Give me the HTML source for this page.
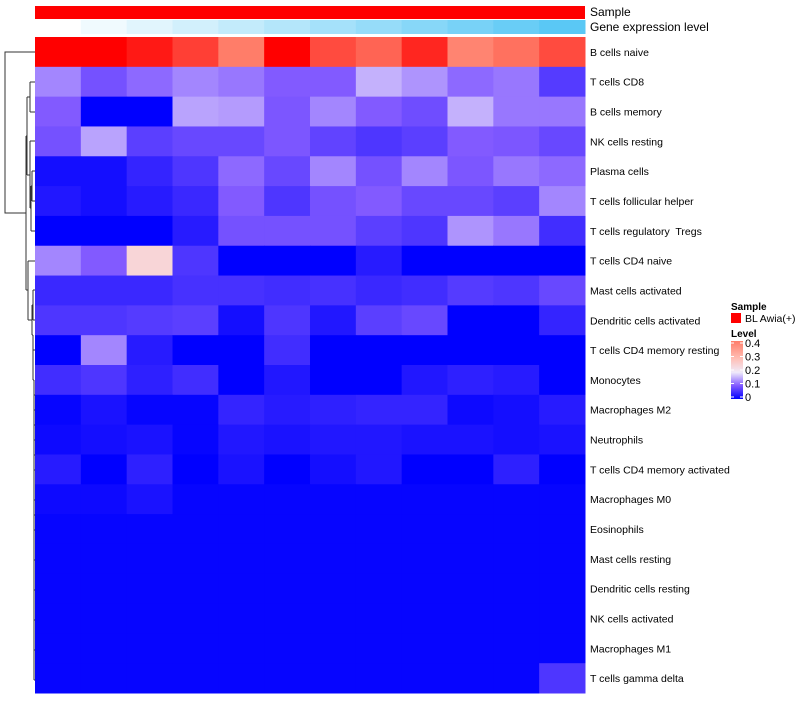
<!DOCTYPE html>
<html><head><meta charset="utf-8"><style>
body{margin:0;background:#fff;}
svg text{font-family:"Liberation Sans",sans-serif;white-space:pre;}
</style></head><body>
<svg id="chart" width="800" height="700" xmlns="http://www.w3.org/2000/svg">
<g id="dendro" stroke="#333" stroke-width="1" fill="none">
<path d="M35,52H5V213H26"/>
<path d="M26,136V290"/>
<path d="M26,136H27M27,97V175M27,97H30M30,82V112M30,82H35M30,112H35"/>
<path d="M27,175H30M30,141V208M30,141H35M30,208H31M31,186V231M31,231H35M31,186H32M32,171V201M32,171H35M32,201H35"/>
<path d="M26,290H28M28,261V320M28,261H35M28,320H32M32,305V335M32,305H33M33,290V320M33,290H35M33,320H35M32,335H33"/>
<path d="M33,335V380M33,350H35M33,380H34M34,380V500M34,395H35M34,425H35M34,440H35M34,470H35M34,500H35M34,455H35M34,410H35"/>
<path d="M34,500V680M34,530H35M34,560H35M34,590H35M34,620H35M34,650H35M34,680H35M34,515H35"/>
</g>
<g id="annot"></g>
<g id="cells"></g>
<g id="labels"></g>
<text x="590" y="16" font-size="12">Sample</text>
<text x="590" y="31" font-size="12">Gene expression level</text>
<g id="legend">
<text x="731" y="310" font-size="10" font-weight="bold">Sample</text>
<rect x="731" y="313" width="10" height="10" fill="#ff0000"/>
<text x="745" y="322" font-size="10.5">BL Awia(+)</text>
<text x="731" y="337" font-size="10" font-weight="bold">Level</text>
<defs><linearGradient id="lg" x1="0" y1="1" x2="0" y2="0">
<stop offset="0" stop-color="rgb(0,0,255)"/><stop offset="0.23" stop-color="rgb(130,90,255)"/><stop offset="0.46" stop-color="rgb(240,235,250)"/><stop offset="0.7" stop-color="rgb(255,190,180)"/><stop offset="1" stop-color="rgb(255,125,105)"/></linearGradient></defs>
<rect x="731" y="341" width="12" height="58" fill="url(#lg)"/>
<g id="ticks"></g>
</g>
</svg>
<script>
const rowLabels=["B cells naive","T cells CD8","B cells memory","NK cells resting","Plasma cells","T cells follicular helper","T cells regulatory  Tregs","T cells CD4 naive","Mast cells activated","Dendritic cells activated","T cells CD4 memory resting","Monocytes","Macrophages M2","Neutrophils","T cells CD4 memory activated","Macrophages M0","Eosinophils","Mast cells resting","Dendritic cells resting","NK cells activated","Macrophages M1","T cells gamma delta"];
const values=[
[0.5,0.5,0.48,0.45,0.4,0.5,0.44,0.42,0.47,0.39,0.41,0.44],
[0.13,0.09,0.11,0.13,0.12,0.1,0.1,0.16,0.14,0.11,0.12,0.065],
[0.1,0,0,0.15,0.145,0.095,0.13,0.1,0.085,0.16,0.12,0.12],
[0.09,0.15,0.07,0.08,0.08,0.095,0.075,0.06,0.07,0.1,0.095,0.08],
[0.015,0.015,0.04,0.06,0.11,0.08,0.13,0.09,0.13,0.095,0.12,0.11],
[0.025,0.015,0.03,0.045,0.1,0.06,0.09,0.1,0.08,0.08,0.07,0.13],
[0,0,0,0.03,0.09,0.09,0.09,0.07,0.06,0.14,0.12,0.05],
[0.13,0.1,0.25,0.06,0,0,0,0.03,0,0,0,0],
[0.045,0.045,0.045,0.055,0.055,0.05,0.055,0.045,0.05,0.065,0.06,0.08],
[0.06,0.06,0.065,0.07,0.015,0.06,0.025,0.07,0.08,0,0,0.04],
[0,0.13,0.03,0,0,0.05,0,0,0,0,0,0],
[0.05,0.06,0.035,0.05,0,0.025,0,0,0.025,0.035,0.03,0],
[0.005,0.02,0.005,0.005,0.04,0.03,0.035,0.04,0.04,0.01,0.015,0.03],
[0.01,0.015,0.02,0.005,0.025,0.02,0.025,0.025,0.02,0.02,0.015,0.02],
[0.03,0,0.035,0,0.02,0,0.015,0.025,0,0,0.035,0],
[0.01,0.01,0.02,0.005,0.005,0.005,0.005,0.005,0.005,0.005,0.005,0.005],
[0.005,0.005,0.005,0.005,0.005,0.005,0.005,0.005,0.005,0.005,0.005,0.005],
[0.005,0.005,0.005,0.005,0.005,0.005,0.005,0.005,0.005,0.005,0.005,0.005],
[0.005,0.005,0.005,0.005,0.005,0.005,0.005,0.005,0.005,0.005,0.005,0.005],
[0.005,0.005,0.005,0.005,0.005,0.005,0.005,0.005,0.005,0.005,0.005,0.005],
[0.005,0.005,0.005,0.005,0.005,0.005,0.005,0.005,0.005,0.005,0.005,0.005],
[0.005,0.005,0.005,0.005,0.005,0.005,0.005,0.005,0.005,0.005,0.005,0.06]];
const geneExpr=[0,1,2,3,4,5,6,7,8,9,10,11];
const legendTicks=[0,0.1,0.2,0.3,0.4];
const NS="http://www.w3.org/2000/svg";
const X0=35,X1=585,Y0=37,Y1=693;
const cw=(X1-X0)/12, rh=(Y1-Y0)/rowLabels.length;
const xPos=j=>X0+j*cw, yPos=i=>Y0+i*rh;
const stops=[[0,[0,0,255]],[0.1,[130,90,255]],[0.2,[240,235,250]],[0.3,[255,190,180]],[0.4,[255,125,105]],[0.5,[255,0,0]]];
function col(v){v=Math.max(0,Math.min(0.5,v));for(let k=1;k<stops.length;k++){if(v<=stops[k][0]){const a=stops[k-1],b=stops[k];const t=(v-a[0])/(b[0]-a[0]);const c=a[1].map((x,i)=>Math.round(x+(b[1][i]-x)*t));return `rgb(${c})`;}}return "rgb(255,0,0)";}
function mk(tag,at,parent){const e=document.createElementNS(NS,tag);for(const k in at)e.setAttribute(k,at[k]);parent.appendChild(e);return e;}
const cells=document.getElementById('cells');
values.forEach((row,i)=>row.forEach((v,j)=>{
 const r=mk('rect',{x:xPos(j),y:yPos(i),width:cw+0.5,height:rh+0.5,fill:col(v)},cells);
 
 
}));
const labels=document.getElementById('labels');
rowLabels.forEach((l,i)=>{
 const t=mk('text',{x:590,y:yPos(i)+rh/2+4,'font-size':10.5},labels);
 t.textContent=l;
 
 
});
const annot=document.getElementById('annot');
const sb=mk('rect',{x:X0,y:6,width:X1-X0,height:13,fill:'#ff0000'},annot);


const gmax=Math.max(...geneExpr);
geneExpr.forEach((g,j)=>{
 const t=g/gmax;
 const c=[Math.round(255-(255-90)*t),Math.round(255-(255-200)*t),Math.round(255-(255-245)*t)];
 const r=mk('rect',{x:xPos(j),y:20,width:cw+0.5,height:14,fill:`rgb(${c})`},annot);
 
 
});
const ticks=document.getElementById('ticks');
legendTicks.forEach(v=>{
 const y=397-v*135;
 mk('line',{x1:731,x2:734,y1:y,y2:y,stroke:'#fff'},ticks);
 mk('line',{x1:740,x2:743,y1:y,y2:y,stroke:'#fff'},ticks);
 const t=mk('text',{x:745,y:y+4,'font-size':11},ticks);
 t.textContent=String(v);
 
 
});
</script>
</body></html>
